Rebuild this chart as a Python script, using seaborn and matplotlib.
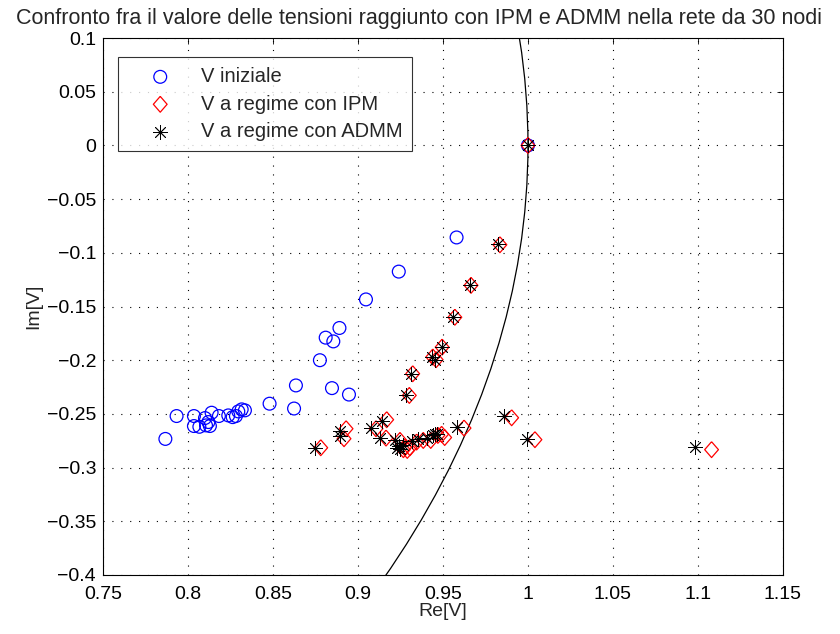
import matplotlib
matplotlib.use('Agg')
import matplotlib.pyplot as plt
import seaborn as sns
import numpy as np
from matplotlib.patches import Circle

# tensioni iniziali
re_init = [1.0, 0.958, 0.924, 0.9047, 0.8891, 0.8810, 0.8855, 0.8776, 0.8847, 0.8947,
           0.8635, 0.8624, 0.8480, 0.7933, 0.7867, 0.8035, 0.8035, 0.8067, 0.8106, 0.8120,
           0.8100, 0.8139, 0.8182, 0.8237, 0.8263, 0.8282, 0.8296, 0.8316, 0.8335, 0.8129]
im_init = [0.0, -0.0857, -0.1175, -0.1434, -0.1700, -0.1790, -0.1825, -0.2000, -0.2260, -0.2320,
           -0.2235, -0.2450, -0.2405, -0.2520, -0.2733, -0.2520, -0.2613, -0.2620, -0.2607, -0.2576,
           -0.2539, -0.2489, -0.2520, -0.2514, -0.2530, -0.2520, -0.2477, -0.2458, -0.2467, -0.2613]

# tensioni a regime con IPM
re_ipm = [1.0, 0.9835, 0.9665, 0.9570, 0.9495, 0.9440, 0.9460, 0.9322, 0.9302, 0.9904,
          1.0041, 1.1080, 0.9624, 0.9492, 0.9510, 0.9428, 0.9384, 0.9345, 0.9306, 0.9267,
          0.9290, 0.9247, 0.9165, 0.9169, 0.9106, 0.8930, 0.8918, 0.8781, 0.9470, 0.9275]
im_ipm = [0.0, -0.0925, -0.1303, -0.1600, -0.1878, -0.1970, -0.1995, -0.2126, -0.2328, -0.2536,
          -0.2740, -0.2833, -0.2632, -0.2690, -0.2720, -0.2747, -0.2747, -0.2762, -0.2815, -0.2833,
          -0.2840, -0.2747, -0.2725, -0.2554, -0.2638, -0.2638, -0.2731, -0.2815, -0.2700, -0.2810]

# tensioni a regime con ADMM
re_admm = [1.0, 0.9822, 0.9659, 0.9560, 0.9492, 0.9434, 0.9453, 0.9310, 0.9282, 0.9859,
           0.9992, 1.0982, 0.9580, 0.9453, 0.9440, 0.9404, 0.9355, 0.9316, 0.9267, 0.9228,
           0.9250, 0.9218, 0.9129, 0.9139, 0.9078, 0.8894, 0.8894, 0.8747, 0.9467, 0.9240]
im_admm = [0.0, -0.0922, -0.1303, -0.1600, -0.1878, -0.1970, -0.1995, -0.2126, -0.2328, -0.2523,
           -0.2737, -0.2809, -0.2625, -0.2691, -0.2700, -0.2725, -0.2735, -0.2750, -0.2793, -0.2815,
           -0.2830, -0.2740, -0.2728, -0.2565, -0.2632, -0.2663, -0.2710, -0.2818, -0.2684, -0.2795]

sns.set_style('white')
plt.rcParams['font.family'] = ['Liberation Sans', 'DejaVu Sans']

fig = plt.figure(figsize=(8.4, 6.34), dpi=100)
ax = fig.add_axes([0.1226, 0.0931, 0.8095, 0.8469])

# rombo un po' piu' alto che largo, come in MATLAB
diamond = [(0, 1), (0.87, 0), (0, -1), (-0.87, 0), (0, 1)]

sns.scatterplot(x=re_init, y=im_init, ax=ax, marker='o', s=85, facecolors='none',
                edgecolor='blue', linewidth=0.9, label='V iniziale', zorder=3)
sns.scatterplot(x=re_ipm, y=im_ipm, ax=ax, marker=diamond, s=130, facecolors='none',
                edgecolor='red', linewidth=0.9, label='V a regime con IPM', zorder=3)
sns.scatterplot(x=re_admm, y=im_admm, ax=ax, marker=(8, 2, 0), s=105, color='black',
                linewidth=0.6, label='V a regime con ADMM', zorder=4)

# circonferenza unitaria
ax.add_patch(Circle((0, 0), 1.0, fill=False, edgecolor='black', linewidth=0.9, zorder=2))

ax.set_xlim(0.75, 1.15)
ax.set_ylim(-0.4, 0.1)
ax.set_xticks(np.arange(0.75, 1.151, 0.05))
ax.set_yticks(np.arange(-0.4, 0.101, 0.05))
ax.set_xticklabels(['0.75', '0.8', '0.85', '0.9', '0.95', '1', '1.05', '1.1', '1.15'])
ax.set_yticklabels(['\u22120.4', '\u22120.35', '\u22120.3', '\u22120.25', '\u22120.2', '\u22120.15',
                    '\u22120.1', '\u22120.05', '0', '0.05', '0.1'])
ax.grid(True, color='black', linestyle=(0, (1, 7)), linewidth=0.8)
ax.tick_params(direction='in', length=4.5, width=0.6, top=True, right=True,
               labelsize=14, colors='black')
ax.tick_params(axis='x', pad=8)
ax.tick_params(axis='y', pad=5)
for sp in ax.spines.values():
    sp.set_color('black')
    sp.set_linewidth(0.8)

ax.set_xlabel('Re[V]', fontsize=14, labelpad=0)
ax.set_ylabel('Im[V]', fontsize=14, labelpad=3)
ax.set_title('Confronto fra il valore delle tensioni raggiunto con IPM e ADMM nella rete da 30 nodi',
             fontsize=15.5, pad=10, x=0.465)

leg = ax.legend(loc='upper left', bbox_to_anchor=(0.022, 0.9646), fontsize=14.5, frameon=True,
                fancybox=False, edgecolor='black', borderpad=0.5, labelspacing=0.42,
                handlelength=3.2, handletextpad=0.4, borderaxespad=0)
leg.get_frame().set_linewidth(0.8)

fig.savefig('out.png', dpi=100)
